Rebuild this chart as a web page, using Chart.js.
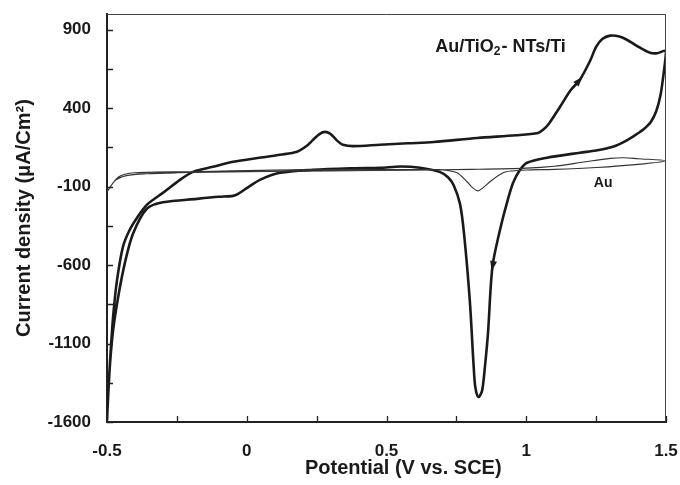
<!DOCTYPE html>
<html>
<head>
<meta charset="utf-8">
<script src="https://cdn.jsdelivr.net/npm/chart.js@4.4.1/dist/chart.umd.min.js"></script>
<style>
  html, body { margin: 0; padding: 0; background: #fff; }
  #wrap { width: 680px; height: 485px; }
</style>
</head>
<body>
<div id="wrap"><canvas id="cv"></canvas></div>
<script>
// Au/TiO2-NTs/Ti cyclic voltammogram (forward scan then reverse scan)
const potentialTiO2 = [
  -0.5, -0.493, -0.485, -0.477, -0.464, -0.443, -0.42, -0.393, -0.357, -0.3,
  -0.239, -0.192, -0.121, -0.049, 0.05, 0.119, 0.18, 0.215, 0.237, 0.26,
  0.28, 0.30, 0.325, 0.344, 0.38, 0.477, 0.576, 0.669, 0.825, 0.964,
  1.042, 1.06, 1.081, 1.121, 1.158, 1.192, 1.228, 1.25, 1.272, 1.30,
  1.33, 1.36, 1.407, 1.443, 1.468, 1.5,
  1.497, 1.49, 1.48, 1.465, 1.445, 1.42, 1.40, 1.36, 1.31, 1.25,
  1.192, 1.074, 1.003, 0.978, 0.953, 0.931, 0.906, 0.879, 0.863, 0.852,
  0.842, 0.829, 0.818, 0.812, 0.798, 0.778, 0.763, 0.74, 0.72, 0.69,
  0.62, 0.55, 0.477, 0.38, 0.237, 0.119, 0.047, 0.0, -0.031, -0.049,
  -0.1, -0.178, -0.3, -0.357, -0.407, -0.436, -0.46, -0.478, -0.489, -0.496,
  -0.5
];
const currentTiO2 = [
  -1590, -1330, -1100, -905, -694, -484, -380, -300, -215, -140,
  -57, -6, 26, 58, 85, 103, 122, 160, 198, 235,
  249, 235, 190, 167, 158, 167, 176, 184, 210, 227,
  242, 262, 301, 409, 513, 581, 700, 790, 840, 862,
  858, 836, 785, 753, 750, 765,
  700, 600, 480, 380, 310, 265, 240, 195, 154, 130,
  116, 84, 52, 7, -76, -203, -376, -612, -1037, -1250,
  -1400, -1441, -1380, -1250, -825, -410, -210, -90, -40, -6,
  20, 28, 20, 17, 7, -12, -57, -110, -146, -159,
  -165, -178, -200, -240, -400, -586, -803, -1013, -1224, -1441,
  -1590
];

// bare Au electrode
const potentialAu = [
  -0.5, -0.47, -0.43, -0.36, -0.25, 0.0, 0.3, 0.6, 0.8, 1.0,
  1.1, 1.2, 1.3, 1.35, 1.4, 1.5,
  1.4, 1.25, 1.1, 1.0, 0.95, 0.917, 0.87, 0.845, 0.827, 0.81,
  0.788, 0.752, 0.69, 0.6, 0.4, 0.1, -0.2, -0.4, -0.46, -0.5
];
const currentAu = [
  -133, -60, -30, -18, -12, -5, 0, 5, 10, 18,
  30, 55, 80, 84, 78, 65,
  42, 22, 10, 6, 0, -12, -69, -108, -127, -110,
  -69, -12, 7, 8, 10, 5, -5, -12, -40, -133
];

const xTicks = [-0.5, 0, 0.5, 1, 1.5];
const xMinor = [-0.25, 0.25, 0.75, 1.25];
const yTicks = [-1600, -1100, -600, -100, 400, 900];
const yMinor = [-1350, -850, -350, 150, 650];

// arrows on the thick curve, given as indexes into the TiO2 arrays
const arrowIdx = [35, 63];

const toPts = (xs, ys) => xs.map((x, i) => ({ x: x, y: ys[i] }));
const FONT = '"Liberation Sans", Arial, sans-serif';
const INK = '#1a1a1a';

const decorPlugin = {
  id: 'decor',
  afterDraw(chart) {
    const c = chart.ctx, a = chart.chartArea;
    const xs = chart.scales.x, ys = chart.scales.y;
    c.save();
    // thin top/right frame
    c.strokeStyle = '#444';
    c.lineWidth = 1;
    c.beginPath();
    c.moveTo(a.left, a.top + 0.5);
    c.lineTo(a.right - 0.5, a.top + 0.5);
    c.lineTo(a.right - 0.5, a.bottom);
    c.stroke();
    // inward ticks
    c.strokeStyle = '#222';
    c.lineWidth = 1.3;
    c.beginPath();
    xTicks.concat(xMinor).forEach(v => {
      const px = Math.round(xs.getPixelForValue(v)) + 0.5;
      c.moveTo(px, a.bottom);
      c.lineTo(px, a.bottom - 6);
    });
    yTicks.concat(yMinor).forEach(v => {
      const py = Math.round(ys.getPixelForValue(v)) + 0.5;
      c.moveTo(a.left, py);
      c.lineTo(a.left + 6, py);
    });
    c.stroke();
    // arrow heads
    c.fillStyle = INK;
    arrowIdx.forEach(i => {
      const x0 = xs.getPixelForValue(potentialTiO2[i - 1]);
      const y0 = ys.getPixelForValue(currentTiO2[i - 1]);
      const x1 = xs.getPixelForValue(potentialTiO2[i]);
      const y1 = ys.getPixelForValue(currentTiO2[i]);
      const ang = Math.atan2(y1 - y0, x1 - x0);
      c.save();
      c.translate(x1, y1);
      c.rotate(ang);
      c.beginPath();
      c.moveTo(4, 0);
      c.lineTo(-6, -3.5);
      c.lineTo(-6, 3.5);
      c.closePath();
      c.fill();
      c.restore();
    });
    // curve labels
    c.textBaseline = 'middle';
    let lx = xs.getPixelForValue(0.674);
    const ly = ys.getPixelForValue(792);
    const parts = [['Au/TiO', 18, 0], ['2', 12, 5], ['- NTs/Ti', 18, 0]];
    parts.forEach(p => {
      c.font = 'bold ' + p[1] + 'px ' + FONT;
      c.fillText(p[0], lx, ly + p[2]);
      lx += c.measureText(p[0]).width + (p[0] === '2' ? 1 : 0);
    });
    c.font = 'bold 14px ' + FONT;
    c.textAlign = 'center';
    c.fillText('Au', xs.getPixelForValue(1.275), ys.getPixelForValue(-76));
    // x axis title, slightly right of the plot centre as in the original
    c.font = 'bold 20px ' + FONT;
    c.fillText('Potential (V vs. SCE)', xs.getPixelForValue(0.56), a.bottom + 46);
    c.restore();
  }
};

new Chart(document.getElementById('cv'), {
  type: 'scatter',
  data: {
    datasets: [
      {
        label: 'Au',
        data: toPts(potentialAu, currentAu),
        showLine: true,
        borderColor: '#333',
        borderWidth: 1.1,
        pointRadius: 0,
        tension: 0.3
      },
      {
        label: 'Au/TiO2-NTs/Ti',
        data: toPts(potentialTiO2, currentTiO2),
        showLine: true,
        borderColor: INK,
        borderWidth: 2.6,
        pointRadius: 0,
        tension: 0.3
      }
    ]
  },
  options: {
    responsive: true,
    maintainAspectRatio: false,
    animation: false,
    layout: { padding: { left: 8, right: 14, top: 14, bottom: 0 } },
    plugins: {
      legend: { display: false },
      tooltip: { enabled: false }
    },
    scales: {
      x: {
        type: 'linear',
        min: -0.5,
        max: 1.5,
        afterBuildTicks: s => { s.ticks = xTicks.map(v => ({ value: v })); },
        afterFit: s => {
          s.height = 63;
          s.paddingLeft = 0;
          s.paddingRight = 0;
        },
        grid: { display: false, drawTicks: false },
        border: { display: true, color: '#222', width: 2 },
        ticks: {
          padding: 19,
          color: INK,
          font: { family: FONT, size: 17, weight: 'bold' },
          callback: v => String(v)
        }
      },
      y: {
        type: 'linear',
        min: -1600,
        max: 1000,
        afterBuildTicks: s => { s.ticks = yTicks.map(v => ({ value: v })); },
        afterFit: s => {
          s.width = 99;
          s.paddingTop = 0;
          s.paddingBottom = 0;
        },
        grid: { display: false, drawTicks: false },
        border: { display: true, color: '#222', width: 2 },
        ticks: {
          padding: 16,
          color: INK,
          font: { family: FONT, size: 17, weight: 'bold' },
          callback: v => String(v)
        },
        title: {
          display: true,
          text: 'Current density (\u03bcA/Cm\u00b2)',
          color: INK,
          font: { family: FONT, size: 20, weight: 'bold' },
          padding: { top: 4, bottom: 0 }
        }
      }
    }
  },
  plugins: [decorPlugin]
});
</script>
</body>
</html>
